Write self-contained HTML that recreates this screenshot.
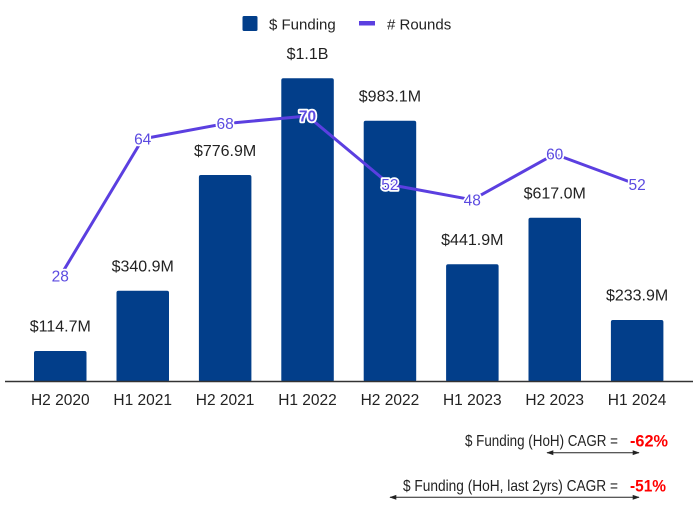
<!DOCTYPE html>
<html><head><meta charset="utf-8"><style>
html,body{margin:0;padding:0;background:#fff;}
svg{display:block;}
text{font-family:"Liberation Sans",Arial,sans-serif;}
.v{font-size:16px;fill:#222;text-anchor:middle;stroke:#fff;stroke-width:3px;paint-order:stroke;stroke-linejoin:round;}
.r{font-size:15.5px;fill:#5b4ae0;text-anchor:middle;stroke:#fff;stroke-width:3.5px;paint-order:stroke;stroke-linejoin:round;}
.x{font-size:15.5px;fill:#222;text-anchor:middle;}
.lg{font-size:15px;fill:#222;}
.c{font-size:16px;fill:#222;}
.p{font-size:17px;fill:#ff0000;font-weight:bold;}
</style></head><body>
<svg width="698" height="515" viewBox="0 0 698 515" xmlns="http://www.w3.org/2000/svg">
<defs>
<marker id="ah" viewBox="0 0 10 10" refX="9" refY="5" markerWidth="7" markerHeight="7" orient="auto-start-reverse">
<path d="M0,1.5 L10,5 L0,8.5 z" fill="#222"/>
</marker>
</defs>
<!-- legend -->
<rect x="242.5" y="16" width="15" height="15" rx="1.5" fill="#023e8a"/>
<text class="lg" x="269" y="29.5">$ Funding</text>
<rect x="359" y="21" width="16" height="4.5" fill="#5b3fe0"/>
<text class="lg" x="387" y="29.5"># Rounds</text>
<!-- bars -->
<g fill="#023e8a">
<rect x="34" y="351" width="52.5" height="31" rx="2"/>
<rect x="116.5" y="290.7" width="52.5" height="91.3" rx="2"/>
<rect x="198.9" y="175" width="52.5" height="207" rx="2"/>
<rect x="281.3" y="78.3" width="52.5" height="303.7" rx="2"/>
<rect x="363.7" y="120.7" width="52.5" height="261.3" rx="2"/>
<rect x="446.1" y="264.3" width="52.5" height="117.7" rx="2"/>
<rect x="528.5" y="217.7" width="52.5" height="164.3" rx="2"/>
<rect x="610.9" y="320" width="52.5" height="62" rx="2"/>
</g>
<!-- axis -->
<line x1="5" y1="381.5" x2="693" y2="381.5" stroke="#333" stroke-width="1.5"/>
<!-- value labels -->
<text class="v" x="60.3" y="331.5">$114.7M</text>
<text class="v" x="142.7" y="271.5">$340.9M</text>
<text class="v" x="225.1" y="156">$776.9M</text>
<text class="v" x="307.5" y="59">$1.1B</text>
<text class="v" x="389.9" y="101.5">$983.1M</text>
<text class="v" x="472.3" y="245">$441.9M</text>
<text class="v" x="554.7" y="198.5">$617.0M</text>
<text class="v" x="637.1" y="300.5">$233.9M</text>
<!-- line -->
<polyline points="60.3,276 142.7,138.9 225.1,123.6 307.5,116 389.9,184.6 472.3,199.8 554.7,154.1 637.1,184.6" fill="none" stroke="#5b3fe0" stroke-width="3" stroke-linejoin="round"/>
<text class="r" x="60.3" y="281.5">28</text>
<text class="r" x="142.7" y="144.4">64</text>
<text class="r" x="225.1" y="129.1">68</text>
<text class="r" x="307.5" y="121.5" style="font-weight:bold">70</text>
<text class="r" x="389.9" y="190.1">52</text>
<text class="r" x="472.3" y="205.3">48</text>
<text class="r" x="554.7" y="159.6">60</text>
<text class="r" x="637.1" y="190.1">52</text>
<!-- x labels -->
<text class="x" x="60.3" y="405">H2 2020</text>
<text class="x" x="142.7" y="405">H1 2021</text>
<text class="x" x="225.1" y="405">H2 2021</text>
<text class="x" x="307.5" y="405">H1 2022</text>
<text class="x" x="389.9" y="405">H2 2022</text>
<text class="x" x="472.3" y="405">H1 2023</text>
<text class="x" x="554.7" y="405">H2 2023</text>
<text class="x" x="637.1" y="405">H1 2024</text>
<!-- CAGR notes -->
<text class="c" x="465" y="446" textLength="153" lengthAdjust="spacingAndGlyphs">$ Funding (HoH) CAGR =</text>
<text class="p" x="630" y="446.5" textLength="38" lengthAdjust="spacingAndGlyphs">-62%</text>
<line x1="547" y1="452.7" x2="639" y2="452.7" stroke="#222" stroke-width="1" marker-start="url(#ah)" marker-end="url(#ah)"/>
<text class="c" x="403" y="491" textLength="215" lengthAdjust="spacingAndGlyphs">$ Funding (HoH, last 2yrs) CAGR =</text>
<text class="p" x="630" y="491.5" textLength="36" lengthAdjust="spacingAndGlyphs">-51%</text>
<line x1="390" y1="497.3" x2="639" y2="497.3" stroke="#222" stroke-width="1" marker-start="url(#ah)" marker-end="url(#ah)"/>
</svg>
</body></html>
